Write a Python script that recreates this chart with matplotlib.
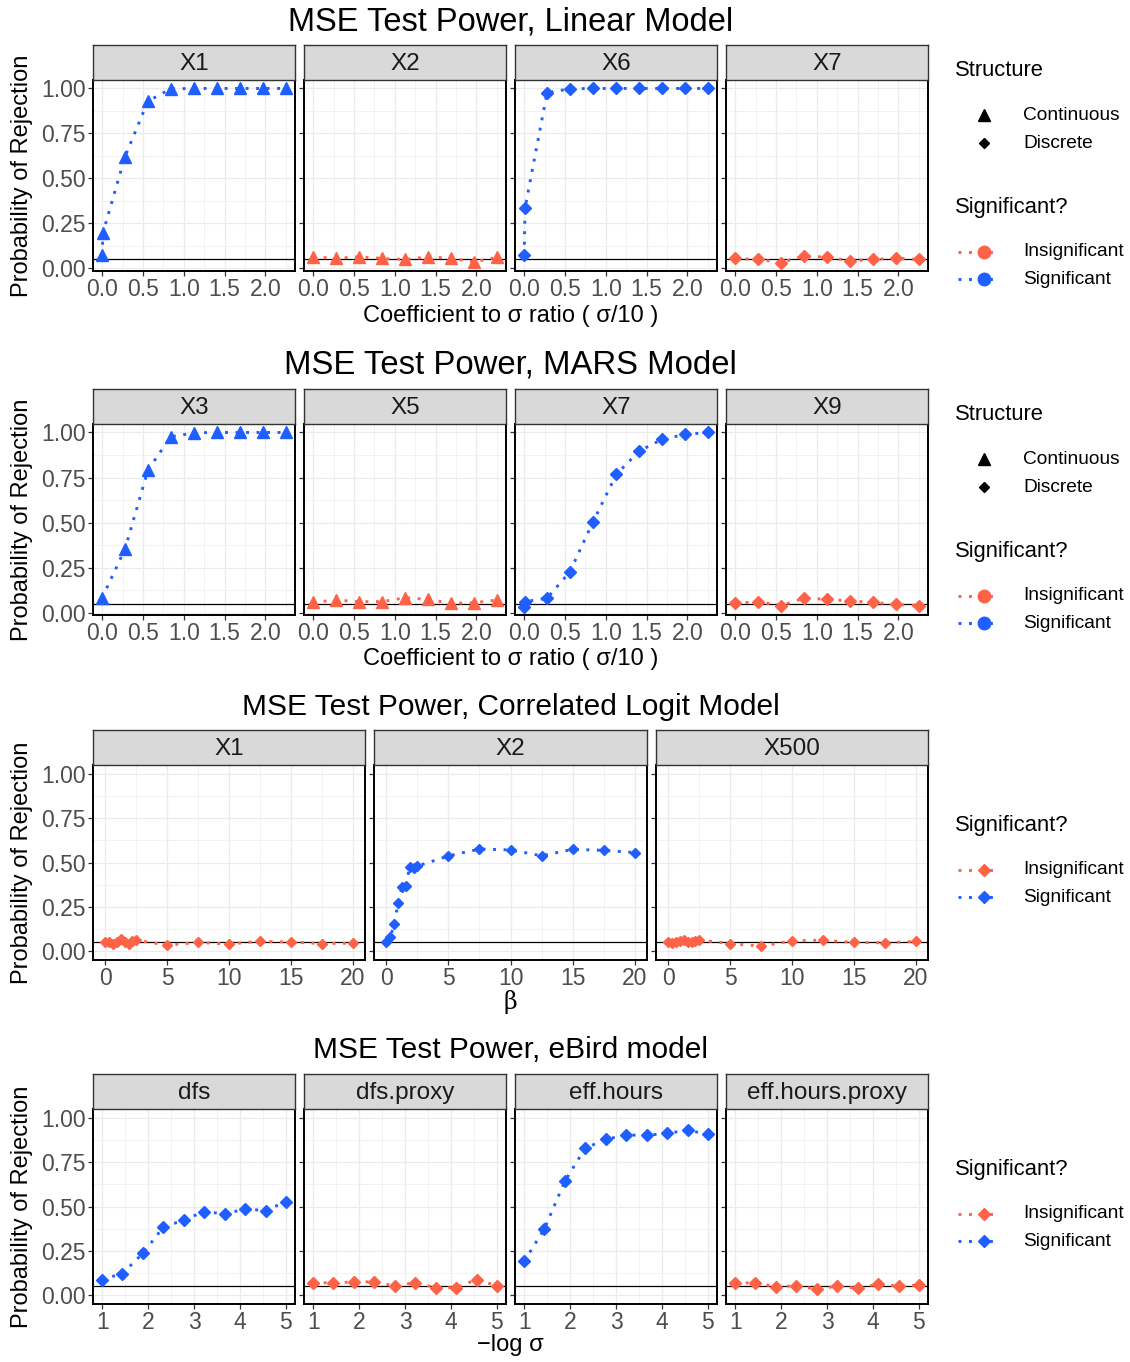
#!/usr/bin/env python3
"""MSE test power panels, four stacked facet rows with legends on the right."""
import matplotlib
matplotlib.use("Agg")
import matplotlib.pyplot as plt

W, H = 1130, 1362
BLUE = "#1F5FFF"
RED = "#FF6347"
plt.rcParams["font.family"] = ["Liberation Sans", "DejaVu Sans"]

# ---- data ----
coef_x = [0.0, 0.28, 0.56, 0.84, 1.13, 1.41, 1.69, 1.97, 2.25]
coef_x_dup = [0.0, 0.01, 0.28, 0.56, 0.84, 1.13, 1.41, 1.69, 1.97, 2.25]

lin_x1 = [0.074, 0.199, 0.622, 0.929, 0.998, 1.0, 1.0, 1.0, 1.0, 1.0]
lin_x2 = [0.065, 0.056, 0.065, 0.056, 0.050, 0.065, 0.056, 0.037, 0.061]
lin_x6 = [0.074, 0.335, 0.976, 0.998, 1.0, 1.0, 1.0, 1.0, 1.0, 1.0]
lin_x7 = [0.056, 0.050, 0.033, 0.069, 0.063, 0.042, 0.050, 0.057, 0.050]

mars_x3 = [0.083, 0.353, 0.791, 0.976, 0.998, 1.0, 1.0, 1.0, 1.0]
mars_x5 = [0.057, 0.070, 0.061, 0.061, 0.083, 0.074, 0.052, 0.055, 0.070]
mars_x7 = [0.033, 0.061, 0.080, 0.227, 0.501, 0.768, 0.897, 0.962, 0.989, 1.0]
mars_x9 = [0.052, 0.061, 0.039, 0.080, 0.074, 0.065, 0.057, 0.046, 0.039]

beta_x = [0, 0.3125, 0.625, 0.9375, 1.25, 1.5625, 1.875, 2.1875, 2.5,
          5, 7.5, 10, 12.5, 15, 17.5, 20]
logit_x1 = [0.053, 0.049, 0.043, 0.053, 0.066, 0.049, 0.043, 0.055, 0.062,
            0.034, 0.049, 0.040, 0.056, 0.051, 0.043, 0.045]
logit_x2 = [0.053, 0.079, 0.151, 0.270, 0.363, 0.365, 0.476, 0.470, 0.480,
            0.537, 0.576, 0.571, 0.538, 0.574, 0.569, 0.556]
logit_x500 = [0.049, 0.045, 0.049, 0.056, 0.062, 0.049, 0.053, 0.056, 0.062,
              0.043, 0.028, 0.058, 0.062, 0.049, 0.047, 0.055]

sigma_x = [1.0, 1.44, 1.89, 2.33, 2.78, 3.22, 3.67, 4.11, 4.56, 5.0]
dfs = [0.088, 0.122, 0.237, 0.383, 0.424, 0.471, 0.458, 0.486, 0.477, 0.527]
dfs_proxy = [0.071, 0.069, 0.075, 0.075, 0.051, 0.071, 0.042, 0.043, 0.088, 0.053]
eff_hours = [0.191, 0.374, 0.645, 0.829, 0.879, 0.903, 0.902, 0.913, 0.930, 0.908]
eff_hours_proxy = [0.069, 0.069, 0.047, 0.054, 0.034, 0.051, 0.039, 0.062, 0.051, 0.056]

COLS4 = [(93, 295), (304, 506), (515, 717), (726, 928)]
COLS3 = [(93, 365), (374, 647), (656, 928)]

ROWS = [
    dict(title="MSE Test Power, Linear Model", title_size=23.5, strip=(45, 80), bottom=271,
         cols=COLS4, ylim=(-0.014, 1.047), xlim=(-0.1125, 2.3625),
         xmaj=[0, 0.5, 1.0, 1.5, 2.0], xmin=[0.25, 0.75, 1.25, 1.75, 2.25],
         xfmt="{:.1f}", xlabel="Coefficient to σ ratio ( σ/10 )", xlab_y=316,
         xfam=None, title_y=22, ms_scale=1.0, legend_top=70, structure=True,
         panels=[("X1", coef_x_dup, lin_x1, BLUE, "^"),
                 ("X2", coef_x, lin_x2, RED, "^"),
                 ("X6", coef_x_dup, lin_x6, BLUE, "D"),
                 ("X7", coef_x, lin_x7, RED, "D")]),
    dict(title="MSE Test Power, MARS Model", title_size=23.7, strip=(389, 424), bottom=615,
         cols=COLS4, ylim=(-0.013, 1.047), xlim=(-0.1125, 2.3625),
         xmaj=[0, 0.5, 1.0, 1.5, 2.0], xmin=[0.25, 0.75, 1.25, 1.75, 2.25],
         xfmt="{:.1f}", xlabel="Coefficient to σ ratio ( σ/10 )", xlab_y=659,
         xfam=None, title_y=365, ms_scale=1.0, legend_top=414, structure=True,
         panels=[("X3", coef_x, mars_x3, BLUE, "^"),
                 ("X5", coef_x, mars_x5, RED, "^"),
                 ("X7", coef_x_dup, mars_x7, BLUE, "D"),
                 ("X9", coef_x, mars_x9, RED, "D")]),
    dict(title="MSE Test Power, Correlated Logit Model", title_size=21.5,
         strip=(730, 765), bottom=960,
         cols=COLS3, ylim=(-0.05, 1.05), xlim=(-1, 21),
         xmaj=[0, 5, 10, 15, 20], xmin=[2.5, 7.5, 12.5, 17.5],
         xfmt="{:.0f}", xlabel="β", xlab_y=1002, xfam="DejaVu Serif",
         title_y=707, ms_scale=0.85, legend_top=825, structure=False,
         panels=[("X1", beta_x, logit_x1, RED, "D"),
                 ("X2", beta_x, logit_x2, BLUE, "D"),
                 ("X500", beta_x, logit_x500, RED, "D")]),
    dict(title="MSE Test Power, eBird model", title_size=21.5, strip=(1074, 1109), bottom=1304,
         cols=COLS4, ylim=(-0.05, 1.05), xlim=(0.8, 5.2),
         xmaj=[1, 2, 3, 4, 5], xmin=[1.5, 2.5, 3.5, 4.5],
         xfmt="{:.0f}", xlabel="\u2212log σ", xlab_y=1345, xfam=None,
         title_y=1050, ms_scale=0.95, legend_top=1169, structure=False,
         panels=[("dfs", sigma_x, dfs, BLUE, "D"),
                 ("dfs.proxy", sigma_x, dfs_proxy, RED, "D"),
                 ("eff.hours", sigma_x, eff_hours, BLUE, "D"),
                 ("eff.hours.proxy", sigma_x, eff_hours_proxy, RED, "D")]),
]

YMAJ = [0.0, 0.25, 0.5, 0.75, 1.0]
YMIN = [0.125, 0.375, 0.625, 0.875]
DOTS = (0, (1, 2.6))


def box(x0, y0, x1, y1):
    return [x0 / W, 1 - y1 / H, (x1 - x0) / W, (y1 - y0) / H]


fig = plt.figure(figsize=(W / 100, H / 100), dpi=100)
over = fig.add_axes([0, 0, 1, 1], zorder=10)
over.set_xlim(0, W); over.set_ylim(H, 0); over.axis("off")

for row in ROWS:
    s0, s1 = row["strip"]
    bot = row["bottom"]
    for ci, ((x0, x1), (name, xs, ys, col, mk)) in enumerate(zip(row["cols"], row["panels"])):
        ax = fig.add_axes(box(x0, s1, x1, bot))
        ax.set_xlim(*row["xlim"]); ax.set_ylim(*row["ylim"])
        for v in row["xmin"]:
            ax.axvline(v, color="#EBEBEB", lw=0.45, zorder=0)
        for v in YMIN:
            ax.axhline(v, color="#EBEBEB", lw=0.45, zorder=0)
        for v in row["xmaj"]:
            ax.axvline(v, color="#EBEBEB", lw=0.9, zorder=0)
        for v in YMAJ:
            ax.axhline(v, color="#EBEBEB", lw=0.9, zorder=0)
        ax.axhline(0.05, color="black", lw=0.9, zorder=1)
        ms = (9 if mk == "^" else 6.5) * row["ms_scale"]
        ax.plot(xs, ys, color=col, lw=2.1, ls=DOTS, dash_capstyle="butt", zorder=2)
        ax.plot(xs, ys, ls="none", marker=mk, ms=ms, color=col, mec=col, zorder=3)
        ax.set_xticks(row["xmaj"])
        ax.set_xticklabels([row["xfmt"].format(v) for v in row["xmaj"]])
        ax.set_yticks(YMAJ)
        if ci == 0:
            ax.set_yticklabels(["0.00", "0.25", "0.50", "0.75", "1.00"])
        else:
            ax.set_yticklabels([])
            ax.tick_params(axis="y", length=0)
        ax.tick_params(labelsize=16.5, labelcolor="#4D4D4D", color="#333333",
                       length=3.5, width=0.9, pad=1.5)
        for sp in ax.spines.values():
            sp.set_color("black"); sp.set_linewidth(1.4)
        # strip
        sax = fig.add_axes(box(x0, s0, x1, s1))
        sax.set_xticks([]); sax.set_yticks([])
        sax.set_facecolor("#D9D9D9")
        for sp in sax.spines.values():
            sp.set_color("#333333"); sp.set_linewidth(1.0)
        sax.text(0.5, 0.47, name, ha="center", va="center", fontsize=17.5,
                 color="#1A1A1A", transform=sax.transAxes)

    xl, xr = row["cols"][0][0], row["cols"][-1][1]
    over.text((xl + xr) / 2, row["title_y"], row["title"], ha="center", va="center",
              fontsize=row["title_size"], color="black")
    kw = dict(family=row["xfam"]) if row["xfam"] else {}
    over.text((xl + xr) / 2, row["xlab_y"], row["xlabel"], ha="center", va="center",
              fontsize=17, color="black", **kw)
    over.text(22, (s1 + bot) / 2, "Probability of Rejection", rotation=90,
              ha="center", va="center", fontsize=17, color="black")

    # legend
    y = row["legend_top"]
    if row["structure"]:
        over.text(955, y, "Structure", ha="left", va="center", fontsize=15.8)
        over.plot([984], [y + 45], marker="^", ms=8.5, color="black", ls="none")
        over.text(1023, y + 45, "Continuous", ha="left", va="center", fontsize=13.8)
        over.plot([984], [y + 73], marker="D", ms=5, color="black", ls="none")
        over.text(1023, y + 73, "Discrete", ha="left", va="center", fontsize=13.8)
        y += 137
        lmk, lms = "o", 9
    else:
        lmk, lms = "D", 6
    over.text(955, y, "Significant?", ha="left", va="center", fontsize=15.8)
    for k, (lab, col) in enumerate([("Insignificant", RED), ("Significant", BLUE)]):
        yy = y + 45 + 27 * k
        over.plot([958, 998], [yy, yy], color=col, lw=2.1, ls=DOTS, dash_capstyle="butt")
        over.plot([984], [yy], marker=lmk, ms=lms, color=col, ls="none")
        over.text(1023, yy, lab, ha="left", va="center", fontsize=13.8)

fig.savefig("out.png", dpi=100)
